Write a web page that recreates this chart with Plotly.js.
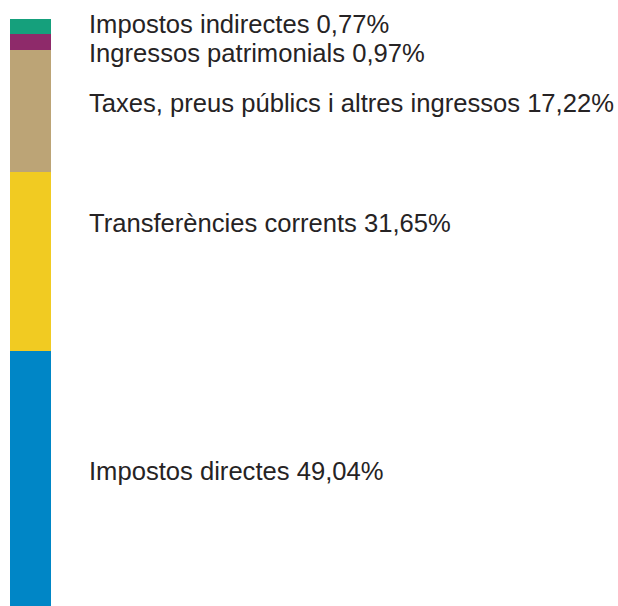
<!DOCTYPE html>
<html>
<head>
<meta charset="utf-8">
<script src="https://cdn.plot.ly/plotly-3.0.1.min.js"></script>
<style>
  html, body { margin: 0; padding: 0; background: #ffffff; }
  #chart { width: 618px; height: 606px; }
</style>
</head>
<body>
<div id="chart"></div>
<script>
// Data (bottom to top)
const categories = [
  "Impostos directes",
  "Transferències corrents",
  "Taxes, preus públics i altres ingressos",
  "Ingressos patrimonials",
  "Impostos indirectes"
];
const percentages = [49.04, 31.65, 17.22, 0.97, 0.77];
// Visual segment sizes as drawn in the reference (not proportional to the percentages)
const segmentSizes = [255, 179, 122, 16, 15];
const colors = ["#0086c6", "#f1cb22", "#bca476", "#8e2a6a", "#15a07c"];

// Layout helpers (pixel positions of label centres, from top)
const W = 618, H = 606, TOP = 19;
const labelCentersPx = [470.5, 223, 103, 53.5, 24.5];

function fmt(v) { return v.toFixed(2).replace('.', ',') + '%'; }

const traces = categories.map((c, i) => ({
  type: 'bar',
  x: ['total'],
  y: [segmentSizes[i]],
  name: c,
  marker: { color: colors[i], line: { width: 0 } },
  width: 1,
  hoverinfo: 'skip'
}));

const plotH = H - TOP;
const annotations = categories.map((c, i) => ({
  xref: 'paper', yref: 'paper',
  x: 87 / W,
  y: (H - labelCentersPx[i]) / plotH,
  xanchor: 'left', yanchor: 'middle',
  text: c + ' ' + fmt(percentages[i]),
  showarrow: false,
  font: { family: 'Liberation Sans, Arial, sans-serif', size: 25.6, color: '#262324' }
}));

const total = segmentSizes.reduce((a, b) => a + b, 0);

const layout = {
  width: W, height: H,
  margin: { l: 0, r: 0, t: TOP, b: 0, pad: 0 },
  paper_bgcolor: '#ffffff',
  plot_bgcolor: '#ffffff',
  barmode: 'stack',
  bargap: 0,
  showlegend: false,
  hovermode: false,
  xaxis: { domain: [10 / W, 51 / W], visible: false, range: [-0.5, 0.5], fixedrange: true },
  yaxis: { visible: false, range: [0, total], fixedrange: true },
  annotations: annotations
};

Plotly.newPlot('chart', traces, layout, { displayModeBar: false, staticPlot: true });
</script>
</body>
</html>
